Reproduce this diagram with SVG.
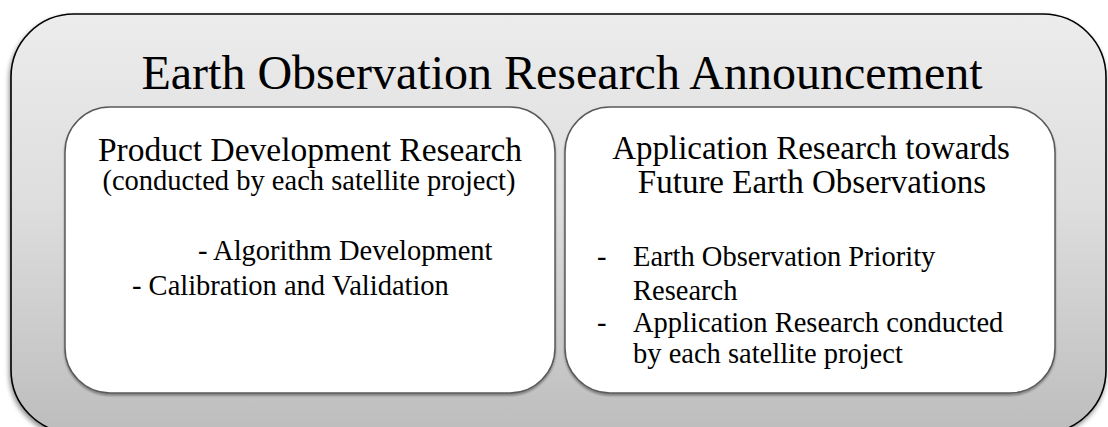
<svg xmlns="http://www.w3.org/2000/svg" width="1108" height="427" viewBox="0 0 1108 427">
  <style>
    .serif { font-family: "Liberation Serif", "Times New Roman", serif; fill: #000; }
    .title { font-size: 48px; text-anchor: middle; }
    .head { font-size: 33.5px; text-anchor: middle; }
    .head2 { font-size: 33px; text-anchor: middle; }
    .sub { font-size: 28.5px; text-anchor: middle; }
    .item { font-size: 28.5px; }
    .panel { fill: #ffffff; stroke: #5a5a5a; stroke-width: 1.5; }
  </style>
  <defs>
    <linearGradient id="outerFill" x1="0" y1="0" x2="0" y2="1">
      <stop offset="0" stop-color="#ececec"/>
      <stop offset="0.45" stop-color="#dedede"/>
      <stop offset="1" stop-color="#bdbdbd"/>
    </linearGradient>
    <filter id="shadow" x="-5%" y="-5%" width="110%" height="115%">
      <feGaussianBlur in="SourceAlpha" stdDeviation="2.5"/>
      <feOffset dx="-1" dy="3" result="b"/>
      <feComponentTransfer><feFuncA type="linear" slope="0.45"/></feComponentTransfer>
      <feMerge><feMergeNode/><feMergeNode in="SourceGraphic"/></feMerge>
    </filter>
    <filter id="softShadow" x="-5%" y="-5%" width="110%" height="115%">
      <feGaussianBlur in="SourceAlpha" stdDeviation="1.2"/>
      <feOffset dx="0" dy="1.5" result="b"/>
      <feComponentTransfer><feFuncA type="linear" slope="0.35"/></feComponentTransfer>
      <feMerge><feMergeNode/><feMergeNode in="SourceGraphic"/></feMerge>
    </filter>
  </defs>

  <!-- outer announcement container -->
  <g id="announcement">
    <rect x="11" y="14" width="1095" height="419" rx="63" ry="63" fill="url(#outerFill)" stroke="#000" stroke-width="1.6" filter="url(#shadow)"/>
    <text class="serif title" x="562" y="89">Earth Observation Research Announcement</text>
  </g>

  <!-- left panel -->
  <g id="product-development">
    <rect class="panel" x="65" y="107" width="490" height="286" rx="45" ry="45" filter="url(#softShadow)"/>
    <text class="serif head" x="310" y="161">Product Development Research</text>
    <text class="serif sub" x="309" y="190">(conducted by each satellite project)</text>
    <text class="serif item" x="198" y="260">- Algorithm Development</text>
    <text class="serif item" x="132" y="295">- Calibration and Validation</text>
  </g>

  <!-- right panel -->
  <g id="application-research">
    <rect class="panel" x="565" y="107" width="490" height="286" rx="45" ry="45" filter="url(#softShadow)"/>
    <text class="serif head2" x="811" y="159">Application Research towards</text>
    <text class="serif head2" x="812" y="193">Future Earth Observations</text>
    <text class="serif item" x="597" y="266">-</text>
    <text class="serif item" x="633" y="266">Earth Observation Priority</text>
    <text class="serif item" x="633" y="300">Research</text>
    <text class="serif item" x="597" y="332">-</text>
    <text class="serif item" x="633" y="332">Application Research conducted</text>
    <text class="serif item" x="633" y="363">by each satellite project</text>
  </g>

  <g id="connectors"/>
</svg>
